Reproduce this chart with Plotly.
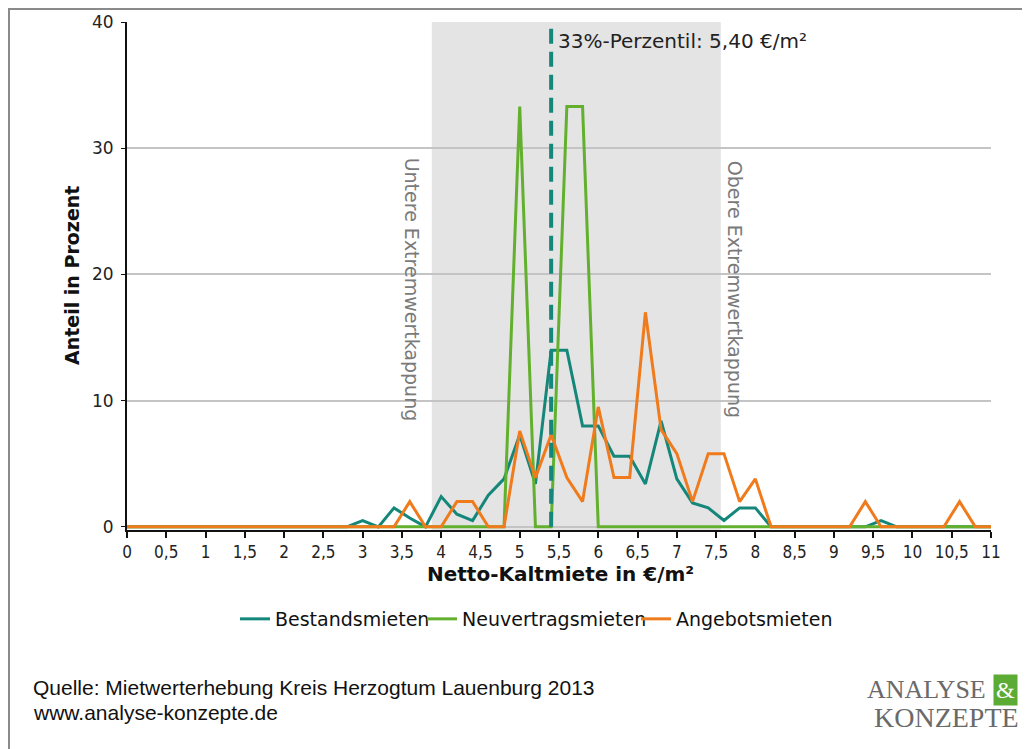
import plotly.graph_objects as go

# ---- data ----
x_values = [0.0, 0.2, 0.4, 0.6, 0.8, 1.0, 1.2, 1.4, 1.6, 1.8, 2.0, 2.2, 2.4, 2.6,
            2.8, 3.0, 3.2, 3.4, 3.6, 3.8, 4.0, 4.2, 4.4, 4.6, 4.8, 5.0, 5.2, 5.4,
            5.6, 5.8, 6.0, 6.2, 6.4, 6.6, 6.8, 7.0, 7.2, 7.4, 7.6, 7.8, 8.0, 8.2,
            8.4, 8.6, 8.8, 9.0, 9.2, 9.4, 9.6, 9.8, 10.0, 10.2, 10.4, 10.6, 10.8, 11.0]

bestandsmieten = [0, 0, 0, 0, 0, 0, 0, 0, 0, 0, 0, 0, 0, 0,
                  0, 0.5, 0, 1.5, 0.7, 0, 2.4, 1.0, 0.5, 2.5, 3.8, 7.3, 3.4, 14.0,
                  14.0, 8.0, 8.0, 5.6, 5.6, 3.4, 8.4, 3.8, 1.9, 1.5, 0.5, 1.5, 1.5, 0,
                  0, 0, 0, 0, 0, 0, 0.5, 0, 0, 0, 0, 0, 0, 0]

neuvertragsmieten = [0, 0, 0, 0, 0, 0, 0, 0, 0, 0, 0, 0, 0, 0,
                     0, 0, 0, 0, 0, 0, 0, 0, 0, 0, 0, 33.3, 0, 0,
                     33.3, 33.3, 0, 0, 0, 0, 0, 0, 0, 0, 0, 0, 0, 0,
                     0, 0, 0, 0, 0, 0, 0, 0, 0, 0, 0, 0, 0, 0]

angebotsmieten = [0, 0, 0, 0, 0, 0, 0, 0, 0, 0, 0, 0, 0, 0,
                  0, 0, 0, 0, 2.0, 0, 0, 2.0, 2.0, 0, 0, 7.6, 3.9, 7.3,
                  3.9, 2.0, 9.5, 3.9, 3.9, 17.0, 7.7, 5.8, 2.0, 5.8, 5.8, 2.0, 3.8, 0,
                  0, 0, 0, 0, 0, 2.0, 0, 0, 0, 0, 0, 2.0, 0, 0]

x_tickvals = [0, 0.5, 1, 1.5, 2, 2.5, 3, 3.5, 4, 4.5, 5, 5.5, 6, 6.5, 7, 7.5,
              8, 8.5, 9, 9.5, 10, 10.5, 11]
x_ticktext = ["0", "0,5", "1", "1,5", "2", "2,5", "3", "3,5", "4", "4,5", "5",
              "5,5", "6", "6,5", "7", "7,5", "8", "8,5", "9", "9,5", "10", "10,5", "11"]
y_tickvals = [0, 10, 20, 30, 40]

percentile_value = 5.40
percentile_label = "33%-Perzentil: 5,40 €/m²"
capping_lower = 3.88
capping_upper = 7.56

series_names = ["Bestandsmieten", "Neuvertragsmieten", "Angebotsmieten"]
series_colors = ["#14877a", "#62b02e", "#ef7b1c"]
legend_ids = ["legend", "legend2", "legend3"]

# page offset compensation (browser body margin of 8px)
OFF = 8
PL, PR, PT, PB = 127, 991, 22, 530  # plot area in reference pixels
PW, PH = PR - PL, PB - PT


def px(xr):
    return (xr - PL) / PW


def py(yr):
    return (PB - yr) / PH


# ---- figure ----
fig = go.Figure()
for name, vals, col, lg in zip(series_names,
                               [bestandsmieten, neuvertragsmieten, angebotsmieten],
                               series_colors, legend_ids):
    fig.add_trace(go.Scatter(x=x_values, y=vals, mode="lines", name=name,
                             line=dict(color=col, width=3), legend=lg))

# shaded capping band
fig.add_vrect(x0=capping_lower, x1=capping_upper, fillcolor="#e4e4e4",
              opacity=1, line_width=0, layer="below")

# percentile dashed line
fig.add_shape(type="line", x0=percentile_value, x1=percentile_value, y0=0, y1=40,
              xref="x", yref="y", line=dict(color="#14877a", width=4, dash="15px,8px"),
              layer="above")

base_font = "DejaVu Sans"

annotations = [
    dict(x=percentile_value, y=38.5, xref="x", yref="y", text=percentile_label,
         showarrow=False, xanchor="left", yanchor="middle", xshift=5,
         font=dict(family=base_font, size=20, color="#222222")),
    dict(x=3.64, y=18.8, xref="x", yref="y", text="Untere Extremwertkappung",
         showarrow=False, textangle=90, xanchor="center", yanchor="middle",
         font=dict(family=base_font, size=19, color="#7a7a7a")),
    dict(x=7.75, y=18.8, xref="x", yref="y", text="Obere Extremwertkappung",
         showarrow=False, textangle=90, xanchor="center", yanchor="middle",
         font=dict(family=base_font, size=19, color="#7a7a7a")),
    dict(x=px(72), y=py(275), xref="paper", yref="paper",
         text="<b>Anteil in Prozent</b>", showarrow=False, textangle=-90,
         xanchor="center", yanchor="middle",
         font=dict(family=base_font, size=19, color="#111111")),
    dict(x=px(560), y=py(574), xref="paper", yref="paper",
         text="<b>Netto-Kaltmiete in €/m²</b>", showarrow=False,
         xanchor="center", yanchor="middle",
         font=dict(family=base_font, size=20, color="#111111")),
    dict(x=px(31), y=py(687), xref="paper", yref="paper",
         text="Quelle: Mietwerterhebung Kreis Herzogtum Lauenburg 2013",
         showarrow=False, xanchor="left", yanchor="middle",
         font=dict(family="Liberation Sans", size=21, color="#111111")),
    dict(x=px(31), y=py(712), xref="paper", yref="paper",
         text="www.analyse-konzepte.de",
         showarrow=False, xanchor="left", yanchor="middle",
         font=dict(family="Liberation Sans", size=21, color="#111111")),
    dict(x=px(988), y=py(690), xref="paper", yref="paper",
         text="ANALYSE", showarrow=False, xanchor="right", yanchor="middle",
         font=dict(family="Liberation Serif", size=26, color="#6a6a6a")),
    dict(x=px(1005), y=py(690), xref="paper", yref="paper",
         text="&amp;", showarrow=False, xanchor="center", yanchor="middle",
         bgcolor="#5cab35", borderpad=2,
         font=dict(family="Liberation Serif", size=24, color="#ffffff")),
    dict(x=px(1021), y=py(717), xref="paper", yref="paper",
         text="KONZEPTE", showarrow=False, xanchor="right", yanchor="middle",
         font=dict(family="Liberation Serif", size=28, color="#6a6a6a")),
]

# frame lines (left and top border of the original frame)
fig.add_shape(type="line", xref="paper", yref="paper",
              x0=px(OFF + 1), x1=px(OFF + 1),
              y0=py(OFF), y1=py(749),
              line=dict(color="#8a8a8a", width=2))
fig.add_shape(type="line", xref="paper", yref="paper",
              x0=px(OFF), x1=px(1022),
              y0=py(OFF + 1), y1=py(OFF + 1),
              line=dict(color="#8a8a8a", width=2))

legend_common = dict(orientation="h", xanchor="left", yanchor="middle",
                     y=py(619), font=dict(family=base_font, size=19, color="#111111"),
                     bgcolor="rgba(0,0,0,0)", itemwidth=30)

fig.update_layout(
    width=1035 - OFF, height=749 - OFF,
    margin=dict(l=PL - OFF, r=1035 - PR, t=PT - OFF, b=749 - PB, autoexpand=False),
    paper_bgcolor="white", plot_bgcolor="white",
    annotations=annotations,
    showlegend=True,
    legend=dict(x=px(235), **legend_common),
    legend2=dict(x=px(422), **legend_common),
    legend3=dict(x=px(636), **legend_common),
    xaxis=dict(range=[0, 11], tickvals=x_tickvals, ticktext=x_ticktext,
               automargin=False,
               showgrid=False, zeroline=False, showline=True, linecolor="#111111",
               linewidth=2, ticks="outside", ticklen=6, tickwidth=1.5, tickcolor="#111111",
               tickfont=dict(family="DejaVu Sans Condensed", size=17, color="#222222")),
    yaxis=dict(range=[-0.25, 40], tickvals=y_tickvals, automargin=False,
               showgrid=True, gridcolor="#c4c4c4", gridwidth=1.5, zeroline=False,
               showline=True, linecolor="#111111", linewidth=2,
               ticks="outside", ticklen=4, tickcolor="#111111",
               ticklabelstandoff=4,
               tickfont=dict(family=base_font, size=17, color="#222222")),
)

fig.write_html("out.html")
